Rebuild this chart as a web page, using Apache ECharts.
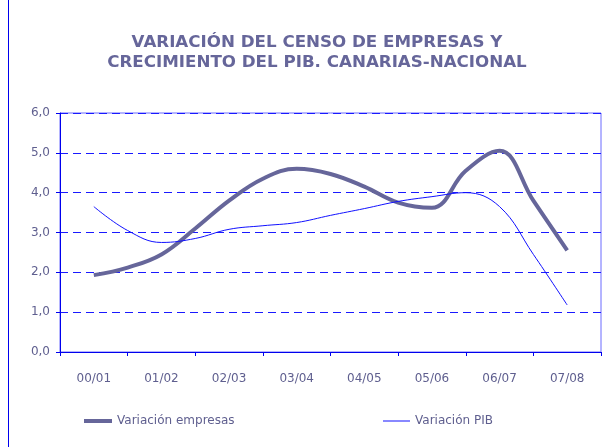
<!DOCTYPE html>
<html>
<head>
<meta charset="utf-8">
<script src="https://cdn.jsdelivr.net/npm/echarts@6/dist/echarts.min.js"></script>
<style>
  html, body { margin: 0; padding: 0; background: #fff; }
  #main { width: 607px; height: 447px; }
</style>
</head>
<body>
<div id="main"></div>
<script>
// campañas (etiquetas del eje x)
const categories = ['00/01', '01/02', '02/03', '03/04', '04/05', '05/06', '06/07', '07/08'];
// valores semestrales (15 puntos, del 00/01 al 07/08)
const empresas = [1.93, 2.12, 2.45, 3.1, 3.8, 4.35, 4.6, 4.47, 4.15, 3.75, 3.62, 4.55, 5.05, 3.8, 2.55];
const pib = [3.65, 3.05, 2.75, 2.85, 3.08, 3.17, 3.25, 3.43, 3.6, 3.78, 3.9, 4.0, 3.65, 2.45, 1.18];
const yTicks = [0, 1, 2, 3, 4, 5, 6];

const textColor = '#5f5f8f';
const font = 'DejaVu Sans';

let myChart = echarts.init(document.getElementById('main'));

let option = {
  animation: false,
  title: {
    text: 'VARIACIÓN DEL CENSO DE EMPRESAS Y\nCRECIMIENTO DEL PIB. CANARIAS-NACIONAL',
    left: 312,
    textAlign: 'center',
    top: 28,
    textStyle: {
      fontFamily: font,
      fontSize: 16.7,
      fontWeight: 'bold',
      color: '#66669a',
      lineHeight: 20
    }
  },
  legend: [
    {
      left: 79, top: 410,
      icon: 'rect',
      itemWidth: 28, itemHeight: 4,
      data: ['Variación empresas'],
      textStyle: { fontFamily: font, fontSize: 12, color: textColor }
    },
    {
      left: 378, top: 410,
      icon: 'rect',
      itemWidth: 27, itemHeight: 1,
      data: ['Variación PIB'],
      textStyle: { fontFamily: font, fontSize: 12, color: textColor }
    }
  ],
  grid: {
    left: 60, right: 6, top: 113, bottom: 95,
    show: true,
    borderColor: '#6b6bff',
    borderWidth: 1
  },
  xAxis: [
    {
      type: 'category',
      data: categories,
      boundaryGap: true,
      axisLine: { lineStyle: { color: '#0000ee', width: 1 } },
      axisTick: { show: true, length: 4, lineStyle: { color: '#0000ee' } },
      axisLabel: { margin: 21, fontFamily: font, fontSize: 12, color: textColor }
    },
    {
      // eje auxiliar para situar los puntos semestrales
      type: 'value',
      min: -1,
      max: 15,
      show: false
    }
  ],
  yAxis: {
    type: 'value',
    min: yTicks[0],
    max: yTicks[yTicks.length - 1],
    interval: 1,
    axisLine: { show: true, onZero: false, lineStyle: { color: '#0000ee', width: 1 } },
    axisTick: { show: true, length: 4, lineStyle: { color: '#0000ee' } },
    axisLabel: {
      margin: 10,
      fontFamily: font, fontSize: 12, color: textColor,
      formatter: v => v.toFixed(1).replace('.', ',')
    },
    splitLine: { lineStyle: { color: '#1a1aff', type: [8, 5], width: 1 } }
  },
  series: [
    {
      name: 'Variación empresas',
      type: 'line',
      xAxisIndex: 1,
      data: empresas.map((v, i) => [i, v]),
      smooth: 0.4,
      symbol: 'none',
      lineStyle: { color: '#66669a', width: 4 },
      itemStyle: { color: '#66669a' }
    },
    {
      name: 'Variación PIB',
      type: 'line',
      xAxisIndex: 1,
      data: pib.map((v, i) => [i, v]),
      smooth: 0.4,
      symbol: 'none',
      lineStyle: { color: '#1010ff', width: 1 },
      itemStyle: { color: '#1010ff' }
    }
  ],
  graphic: [
    {
      type: 'line',
      shape: { x1: 8.5, y1: 0, x2: 8.5, y2: 447 },
      style: { stroke: '#0000ee', lineWidth: 1 }
    }
  ]
};

myChart.setOption(option);
</script>
</body>
</html>
